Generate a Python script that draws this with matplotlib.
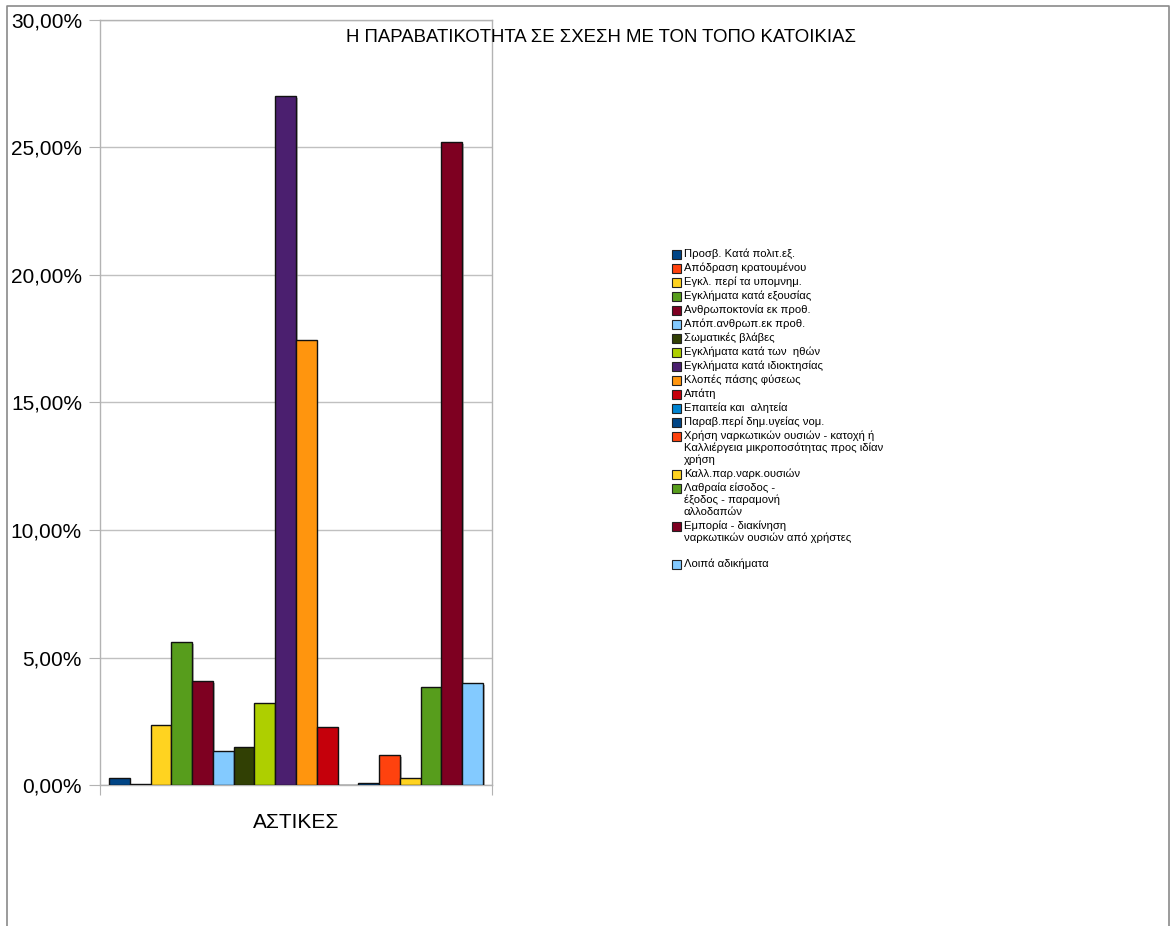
import matplotlib
matplotlib.use("Agg")
import matplotlib.pyplot as plt
from matplotlib.patches import Rectangle
from matplotlib.ticker import FuncFormatter
import matplotlib.patheffects as pe

plt.rcParams['font.family'] = ['Liberation Sans', 'DejaVu Sans']

# data (percent)
labels = [
    "Προσβ. Κατά πολιτ.εξ.",
    "Απόδραση κρατουμένου",
    "Εγκλ. περί τα υπομνημ.",
    "Εγκλήματα κατά εξουσίας",
    "Ανθρωποκτονία εκ προθ.",
    "Απόπ.ανθρωπ.εκ προθ.",
    "Σωματικές βλάβες",
    "Εγκλήματα κατά των  ηθών",
    "Εγκλήματα κατά ιδιοκτησίας",
    "Κλοπές πάσης φύσεως",
    "Απάτη",
    "Επαιτεία και  αλητεία",
    "Παραβ.περί δημ.υγείας νομ.",
    "Χρήση ναρκωτικών ουσιών - κατοχή ή\nΚαλλιέργεια μικροποσότητας προς ιδίαν\nχρήση",
    "Καλλ.παρ.ναρκ.ουσιών",
    "Λαθραία είσοδος -\nέξοδος - παραμονή\nαλλοδαπών",
    "Εμπορία - διακίνηση\nναρκωτικών ουσιών από χρήστες\n",
    "Λοιπά αδικήματα",
]
values = [0.27, 0.02, 2.35, 5.60, 4.08, 1.33, 1.49, 3.20, 27.00, 17.45,
          2.27, 0.01, 0.08, 1.18, 0.27, 3.84, 25.20, 4.00]
category = "ΑΣΤΙΚΕΣ"
title = "Η ΠΑΡΑΒΑΤΙΚΟΤΗΤΑ ΣΕ ΣΧΕΣΗ ΜΕ ΤΟΝ ΤΟΠΟ ΚΑΤΟΙΚΙΑΣ"

palette = ["#004586", "#ff420e", "#ffd320", "#579d1c", "#7e0021", "#83caff",
           "#314004", "#aecf00", "#4b1f6f", "#ff950e", "#c5000b", "#0084d1"]
colors = [palette[i % len(palette)] for i in range(len(values))]

W, H = 1171, 926
fig = plt.figure(figsize=(W / 100, H / 100), dpi=100)

# outer frame
frame = fig.add_axes([0, 0, 1, 1])
frame.set_xlim(0, W)
frame.set_ylim(H, 0)
frame.axis("off")
frame.plot([7, 7, 1169, 1169], [930, 6, 6, 930], color="#8a8a8a", lw=1.2)

# main plot
ax = fig.add_axes([100 / W, (H - 785) / H, 392 / W, (785 - 20) / H])
n = len(values)
group = 0.954
bw = group / n
xs = [-group / 2 + bw * (i + 0.5) for i in range(n)]
bars = ax.bar(xs, values, width=bw, color=colors, edgecolor="#111111",
              linewidth=1.0, zorder=3)
for b in bars:
    b.set_path_effects([pe.SimplePatchShadow(offset=(1.2, -1.2),
                                             shadow_rgbFace="#888888", alpha=0.6),
                        pe.Normal()])

ax.set_xlim(-0.5, 0.5)
ax.set_ylim(0, 30)
ax.set_yticks(range(0, 31, 5))
ax.yaxis.set_major_formatter(FuncFormatter(lambda v, p: f"{v:.2f}".replace(".", ",") + "%"))
ax.grid(axis="y", color="#c0c0c0", lw=1, zorder=0)
for s in ax.spines.values():
    s.set_color("#b3b3b3")
    s.set_linewidth(1)
ax.tick_params(axis="y", length=8, color="#b3b3b3", labelsize=15, pad=5)
ax.set_xticks([-0.5, 0.5])
ax.set_xticklabels(["", ""])
ax.tick_params(axis="x", which="major", length=7, color="#b3b3b3")
ax.set_xticks([0], minor=True)
ax.set_xticklabels([category], minor=True, fontsize=15)
ax.tick_params(axis="x", which="minor", length=0, pad=20)

fig.text(601 / W, 1 - 38 / H, title, ha="center", va="center", fontsize=13.4)

# legend drawn by hand
y = 254
for lab, c in zip(labels, colors):
    frame.add_patch(Rectangle((672, y - 4.5), 9, 9, facecolor=c,
                              edgecolor="#222222", lw=0.8))
    lines = lab.split("\n")
    for k, line in enumerate(lines):
        frame.text(684, y + k * 12, line, fontsize=8.1, va="center", ha="left")
    y += 14 + 12 * (len(lines) - 1)

fig.savefig("out.png", dpi=100)
